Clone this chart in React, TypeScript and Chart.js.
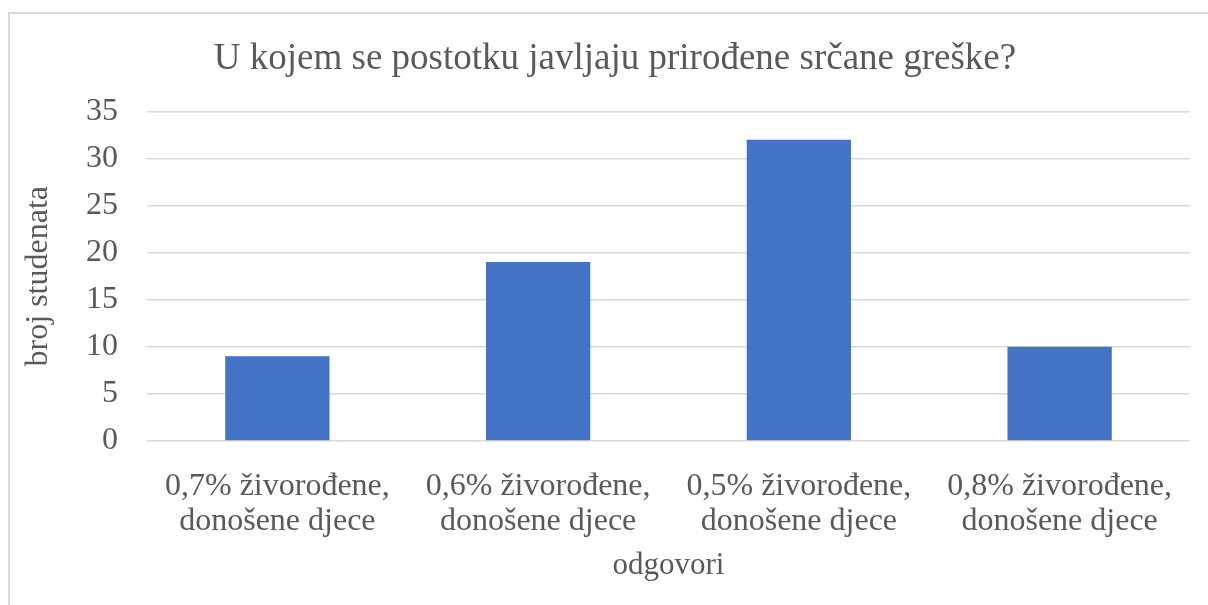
import React, { useEffect, useRef } from "react";
import { Chart, registerables } from "chart.js";

Chart.register(...registerables);

const categories: string[][] = [
  ["0,7% živorođene,", "donošene djece"],
  ["0,6% živorođene,", "donošene djece"],
  ["0,5% živorođene,", "donošene djece"],
  ["0,8% živorođene,", "donošene djece"],
];
const studentCounts: number[] = [9, 19, 32, 10];
const titleText = "U kojem se postotku javljaju prirođene srčane greške?";
const xAxisTitle = "odgovori";
const yAxisTitle = "broj studenata";

const FONT = "'Liberation Serif', 'Times New Roman', serif";
const TEXT = "#595959";
const GRID = "#d9d9d9";

const titleDrawer = {
  id: "titleDrawer",
  afterDraw(chart: any) {
    const ctx = chart.ctx;
    ctx.save();
    ctx.fillStyle = TEXT;
    ctx.font = `37px ${FONT}`;
    ctx.textAlign = "center";
    ctx.textBaseline = "middle";
    ctx.fillText(titleText, 605, 45);
    ctx.restore();
  },
};

export default function App() {
  const ref = useRef<HTMLCanvasElement | null>(null);

  useEffect(() => {
    if (!ref.current) return;
    const chart = new Chart(ref.current, {
      type: "bar",
      data: {
        labels: categories,
        datasets: [
          {
            data: studentCounts,
            backgroundColor: "#4472c4",
            borderWidth: 0,
            barPercentage: 0.4,
            categoryPercentage: 1,
          },
        ],
      },
      plugins: [titleDrawer],
      options: {
        responsive: false,
        animation: false,
        layout: { padding: { left: 0, right: 18, top: 0, bottom: 0 } },
        plugins: {
          legend: { display: false },
          tooltip: { enabled: false },
          title: {
            display: true,
            text: titleText,
            color: "rgba(0,0,0,0)",
            font: { family: FONT, size: 37, weight: "normal", lineHeight: 1.2 },
            padding: { top: 22, bottom: 31 },
          },
        },
        scales: {
          x: {
            grid: { display: false },
            border: { display: false },
            ticks: {
              color: TEXT,
              font: { family: FONT, size: 32, lineHeight: 1.1 },
              padding: 20,
              maxRotation: 0,
              autoSkip: false,
            },
            title: {
              display: true,
              text: xAxisTitle,
              color: TEXT,
              font: { family: FONT, size: 31, lineHeight: 1.2 },
              padding: { top: 0, bottom: 21 },
            },
            afterFit: (scale: any) => {
              scale.height = 164;
            },
          },
          y: {
            min: 0,
            max: 35,
            grid: { color: GRID, lineWidth: 1.5, drawTicks: false },
            border: { display: false },
            ticks: {
              stepSize: 5,
              color: TEXT,
              font: { family: FONT, size: 32 },
              padding: 29,
            },
            title: {
              display: true,
              text: yAxisTitle,
              color: TEXT,
              font: { family: FONT, size: 32, lineHeight: 1.2 },
              padding: { top: 9, bottom: 0 },
            },
            afterFit: (scale: any) => {
              scale.width = 137;
            },
          },
        },
      },
    });
    return () => chart.destroy();
  }, []);

  return (
    <div
      style={{
        position: "absolute",
        left: 8,
        top: 12,
        width: 1210,
        height: 600,
        borderLeft: `2px solid ${GRID}`,
        borderTop: `2px solid ${GRID}`,
        background: "#fff",
      }}
    >
      <canvas ref={ref} width={1198} height={591} style={{ display: "block" }} />
    </div>
  );
}
